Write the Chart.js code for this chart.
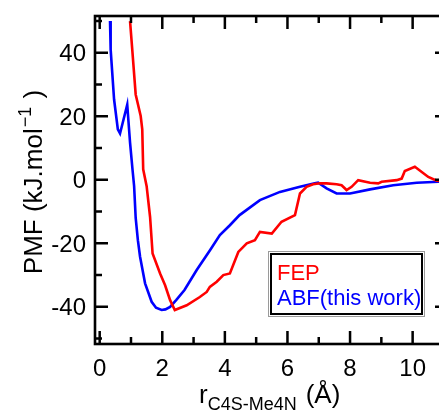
<!DOCTYPE html>
<html>
<head>
<meta charset="utf-8">
<script src="https://cdn.jsdelivr.net/npm/chart.js@4.4.1/dist/chart.umd.min.js"></script>
<style>
  html, body { margin: 0; padding: 0; background: #fff; overflow: hidden; }
  #wrap { width: 439px; height: 411px; overflow: hidden; }
</style>
</head>
<body>
<div id="wrap">
  <canvas id="grafico" width="460" height="411" style="width:460px;height:411px"></canvas>
</div>
<script>
// dados (r em Angstrom, PMF em kJ/mol)
var fepR = [0.97, 1.04, 1.15, 1.31, 1.36, 1.39, 1.50, 1.61, 1.69, 1.93, 2.09, 2.25, 2.40, 2.78, 3.20, 3.42, 3.52, 3.74, 3.95, 4.16, 4.43, 4.70, 4.96, 5.12, 5.50, 5.81, 6.24, 6.40, 6.61, 6.82, 7.04, 7.25, 7.57, 7.73, 7.89, 8.05, 8.26, 8.64, 8.90, 9.01, 9.49, 9.65, 9.75, 10.07, 10.50, 10.77, 11.2];
var fepPMF = [50, 41.1, 26.9, 20.1, 15.9, 3.3, -2.0, -11.7, -23.2, -29.5, -33.2, -37.9, -41.0, -39.5, -36.9, -35.3, -33.7, -32.1, -30.0, -29.5, -22.7, -20.0, -19.0, -16.4, -16.9, -13.2, -11.1, -4.3, -2.2, -1.4, -1.1, -1.1, -1.4, -1.7, -3.2, -2.2, -0.1, -0.9, -1.1, -0.6, -0.1, 0.4, 2.8, 4.1, 0.9, -0.3, -0.5];

var abfR = [0.33, 0.35, 0.46, 0.58, 0.65, 0.88, 0.97, 1.05, 1.10, 1.15, 1.22, 1.29, 1.45, 1.66, 1.80, 1.98, 2.10, 2.25, 2.45, 2.71, 3.10, 3.53, 3.84, 4.16, 4.47, 5.12, 5.76, 6.40, 6.87, 6.98, 7.25, 7.57, 8.00, 8.64, 9.38, 10.13, 10.82, 11.2];
var abfPMF = [50, 41.1, 25.3, 15.9, 14.6, 23.7, 11.7, 3.1, -2, -12, -19, -24.2, -32.6, -38.4, -40.3, -41.0, -40.8, -40.0, -37.8, -34.7, -28.4, -22.1, -17.4, -14.3, -11.1, -6.4, -3.8, -2.2, -1.1, -0.9, -2.7, -4.3, -4.3, -3.0, -1.7, -0.9, -0.6, -0.4];

// ticks
var xTicks = [0, 2, 4, 6, 8, 10];
var xMinor = [1, 3, 5, 7, 9, 11];
var yTicks = [-40, -20, 0, 20, 40];
var yMinor = [-50, -30, -10, 10, 30, 50];

var seriesNames = ['FEP', 'ABF(this work)'];

function pontos(xs, ys) {
    var out = [];
    for (var i = 0; i < xs.length; i++) out.push({ x: xs[i], y: ys[i] });
    return out;
}

var FONTE = '"Liberation Sans", Arial, Helvetica, sans-serif';

// desenha moldura, ticks para dentro, rotulos, titulos e legenda
var eixosPlugin = {
    id: 'eixos',
    afterDraw: function(chart) {
        var ctx = chart.ctx;
        var a = chart.chartArea;
        var sx = chart.scales.x, sy = chart.scales.y;
        ctx.save();
        ctx.strokeStyle = '#000';
        ctx.lineWidth = 2.6;
        ctx.strokeRect(a.left, a.top, a.right - a.left, a.bottom - a.top);

        function tickX(v, len) {
            var p = sx.getPixelForValue(v);
            ctx.beginPath();
            ctx.moveTo(p, a.bottom); ctx.lineTo(p, a.bottom - len);
            ctx.moveTo(p, a.top); ctx.lineTo(p, a.top + len);
            ctx.stroke();
        }
        function tickY(v, len) {
            var p = sy.getPixelForValue(v);
            ctx.beginPath();
            ctx.moveTo(a.left, p); ctx.lineTo(a.left + len, p);
            ctx.moveTo(a.right, p); ctx.lineTo(a.right - len, p);
            ctx.stroke();
        }
        ctx.lineWidth = 2.5;
        xTicks.forEach(function(v) { tickX(v, 13); });
        xMinor.forEach(function(v) { tickX(v, 7); });
        yTicks.forEach(function(v) { tickY(v, 13); });
        yMinor.forEach(function(v) { tickY(v, 7); });

        // rotulos dos ticks
        ctx.fillStyle = '#000';
        ctx.font = '24px ' + FONTE;
        ctx.textBaseline = 'alphabetic';
        ctx.textAlign = 'center';
        xTicks.forEach(function(v) {
            ctx.fillText(String(v), sx.getPixelForValue(v), 376);
        });
        ctx.textAlign = 'right';
        yTicks.forEach(function(v) {
            ctx.fillText(String(v), 86, sy.getPixelForValue(v) + 8.5);
        });

        // titulo eixo x: r_{C4S-Me4N} (Å)
        ctx.textAlign = 'left';
        var x0 = 199;
        ctx.font = '26px ' + FONTE;
        ctx.fillText('r', x0, 403);
        x0 += ctx.measureText('r').width;
        ctx.font = '18px ' + FONTE;
        ctx.fillText('C4S-Me4N', x0, 410);
        x0 += ctx.measureText('C4S-Me4N').width + 9;
        ctx.font = '26px ' + FONTE;
        ctx.fillText('(Å)', x0, 403);

        // titulo eixo y: PMF (kJ.mol^-1 )
        ctx.save();
        ctx.translate(42, 182);
        ctx.rotate(-Math.PI / 2);
        ctx.font = '26px ' + FONTE;
        var t1 = 'PMF (kJ.mol', t3 = ' )';
        var w1 = ctx.measureText(t1).width;
        var w3 = ctx.measureText(t3).width;
        ctx.font = '18px ' + FONTE;
        var w2 = ctx.measureText('\u22121').width + 2;
        var total = w1 + w2 + w3;
        var px = -total / 2;
        ctx.font = '26px ' + FONTE;
        ctx.fillText(t1, px, 0);
        ctx.font = '18px ' + FONTE;
        ctx.fillText('\u22121', px + w1 + 1, -11);
        ctx.font = '26px ' + FONTE;
        ctx.fillText(t3, px + w1 + w2, 0);
        ctx.restore();

        // legenda com borda dupla
        ctx.lineWidth = 1;
        ctx.strokeStyle = '#9a9a9a';
        ctx.strokeRect(268.5, 251.5, 156, 65);
        ctx.fillStyle = '#fff';
        ctx.fillRect(270, 253, 153, 62);
        ctx.lineWidth = 2;
        ctx.strokeStyle = '#000';
        ctx.strokeRect(271, 254, 151, 60);
        ctx.font = '22px ' + FONTE;
        ctx.textAlign = 'left';
        ctx.fillStyle = '#ff0000';
        ctx.fillText(seriesNames[0], 277, 280);
        ctx.fillStyle = '#0000ff';
        ctx.fillText(seriesNames[1], 277, 305);
        ctx.restore();
    }
};

var ctx = document.getElementById('grafico').getContext('2d');
var grafico = new Chart(ctx, {
    type: 'line',
    data: {
        datasets: [{
            label: seriesNames[0],
            data: pontos(fepR, fepPMF),
            borderColor: '#ff0000',
            borderWidth: 2.6,
            pointRadius: 0,
            tension: 0,
            fill: false
        }, {
            label: seriesNames[1],
            data: pontos(abfR, abfPMF),
            borderColor: '#0000ff',
            borderWidth: 2.6,
            pointRadius: 0,
            tension: 0,
            fill: false
        }]
    },
    options: {
        responsive: false,
        animation: false,
        devicePixelRatio: 1,
        layout: { padding: { left: 95, top: 16, right: 12, bottom: 67 } },
        plugins: {
            legend: { display: false },
            tooltip: { enabled: false }
        },
        scales: {
            x: { type: 'linear', min: -0.15, max: 11.13, display: false },
            y: { type: 'linear', min: -51.7, max: 51.6, display: false }
        }
    },
    plugins: [eixosPlugin]
});
</script>
</body>
</html>
